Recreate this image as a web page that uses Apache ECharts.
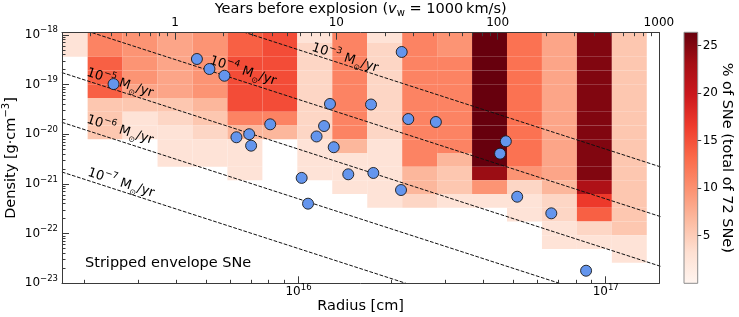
<!DOCTYPE html>
<html><head><meta charset="utf-8">
<script src="https://cdn.jsdelivr.net/npm/echarts@6/dist/echarts.min.js"></script>
<style>html,body{margin:0;padding:0;background:#fff}#c{width:739px;height:317px}</style>
</head><body><div id="c"></div>
<script>
// ---------------- data ----------------
const TOTAL_SNE = 72;
// radius bin edges [cm] (columns of the 2D histogram)
const radiusBinEdges = [1.585e15, 2.059e15, 2.676e15, 3.477e15, 4.517e15, 5.870e15, 7.628e15, 9.911e15,
  1.288e16, 1.674e16, 2.175e16, 2.826e16, 3.672e16, 4.771e16, 6.200e16, 8.056e16, 1.047e17, 1.360e17];
// density bin edges [g cm^-3], from high to low
const densityBinEdges = [1.292e-18, 6.837e-19, 3.618e-19, 1.915e-19, 1.013e-19, 5.362e-20, 2.838e-20, 1.502e-20,
  7.948e-21, 4.207e-21, 2.226e-21, 1.178e-21, 6.235e-22, 3.300e-22, 1.747e-22, 9.245e-23, 4.892e-23, 2.589e-23, 1.370e-23];
// number of SNe per cell, one list per radius column (rows top -> bottom), null = empty
const _ = null;
const snCountsByColumn = [
  [2,2,_,_,_,_,_,_,_,_,_,_,_,_,_,_,_,_],
  [8,8,10,10,10,4,4,4,_,_,_,_,_,_,_,_,_,_],
  [7,7,7,7,6,4,2,2,_,_,_,_,_,_,_,_,_,_],
  [6,6,6,6,6,4,3,2,2,2,_,_,_,_,_,_,_,_],
  [7,7,7,7,7,5,4,3,2,2,_,_,_,_,_,_,_,_],
  [10,10,11,11,11,11,8,5,2,2,2,_,_,_,_,_,_,_],
  [11,11,11,11,11,11,8,5,_,_,_,_,_,_,_,_,_,_],
  [2,3,3,3,3,3,3,3,2,2,2,_,_,_,_,_,_,_],
  [8,8,8,8,8,8,8,8,5,2,2,2,_,_,_,_,_,_],
  [2,3,3,3,3,3,3,3,2,2,2,2,2,_,_,_,_,_],
  [8,8,8,8,8,8,8,8,8,8,5,5,3,_,_,_,_,_],
  [7,7,8,8,8,8,8,8,8,5,4,4,2,_,_,_,_,_],
  [19,19,19,19,19,19,19,19,19,19,17,7,2,_,_,_,_,_],
  [9,9,9,9,9,9,9,9,9,9,7,3,2,2,_,_,_,_],
  [6,6,6,6,6,6,6,6,6,6,6,5,3,3,2,2,_,_],
  [18,18,18,18,18,18,18,18,18,18,18,16,12,10,3,2,_,_],
  [4,4,4,4,4,4,4,4,4,4,4,4,4,4,4,2,2,_]
];
// individual SNe (blue circles)
const snRadius = [2.50e15, 4.67e15, 5.13e15, 5.74e15, 6.28e15, 6.91e15, 7.01e15, 8.09e15, 1.024e16, 1.074e16,
  1.145e16, 1.211e16, 1.266e16, 1.302e16, 1.452e16, 1.722e16, 1.752e16, 2.167e16, 2.156e16, 2.277e16,
  2.80e16, 4.53e16, 4.73e16, 5.15e16, 6.65e16, 8.63e16];
const snDensity = [1.02e-19, 3.26e-19, 2.05e-19, 1.50e-19, 8.67e-21, 1.0e-20, 5.87e-21, 1.58e-20, 1.32e-21, 4.0e-22,
  9.0e-21, 1.46e-20, 4.06e-20, 5.47e-21, 1.56e-21, 3.96e-20, 1.66e-21, 4.51e-19, 7.53e-22, 2.02e-20,
  1.76e-20, 4.06e-21, 7.2e-21, 5.52e-22, 2.56e-22, 1.79e-23];
// constant mass-loss-rate wind lines (v_w = 1000 km/s)
const windExponents = [-3, -4, -5, -6, -7];
const windLineRadius = [1e15, 1e18];
const windDensityAtR1 = [5.0e-17, 5.0e-18, 5.0e-19, 5.0e-20, 5.0e-21];
const windDensityAtR2 = [5.0e-23, 5.0e-24, 5.0e-25, 5.0e-26, 5.0e-27];
// axes
const radiusRange = [1.699e15, 1.494e17];
const densityRange = [1e-23, 1.102e-18];
const yearsRange = [0.1993, 1006];
const radiusMajorTicks = [1e16, 1e17];
const densityMajorTicks = [1e-23, 1e-22, 1e-21, 1e-20, 1e-19, 1e-18];
const yearsMajorTicks = [1, 10, 100, 1000];
const colorbarTicks = [5, 10, 15, 20, 25];

// ---------------- helpers ----------------
const L = Math.log10;
const FONT = 'DejaVu Sans';
const AX = '#3a3a3a';
const REDS = ['#fff5f0','#fee0d2','#fcbba1','#fc9272','#fb6a4a','#ef3b2c','#cb181d','#a50f15','#67000d'];
const colorMax = 19 / TOTAL_SNE * 100;
const neg = v => (v < 0 ? '\u2212' + (-v) : String(v));
function minorTicks(lo, hi) {
  const out = [];
  for (let e = Math.floor(L(lo)) - 1; e <= Math.ceil(L(hi)); e++) {
    for (let k = 2; k <= 9; k++) { const v = k * Math.pow(10, e); if (v > lo && v < hi) out.push(L(v)); }
  }
  return out;
}
const richTick = {
  b: {fontFamily: FONT, fontSize: 12, lineHeight: 18, color: '#000'},
  s: {fontFamily: FONT, fontSize: 8.5, lineHeight: 8.5, verticalAlign: 'top', color: '#000'}
};
const richAnno = {
  n: {fontFamily: FONT, fontSize: 13, lineHeight: 19, color: '#000', textBorderWidth: 0},
  s: {fontFamily: FONT, fontSize: 9, lineHeight: 9, verticalAlign: 'top', color: '#000', textBorderWidth: 0},
  o: {fontFamily: FONT, fontSize: 8, lineHeight: 8, verticalAlign: 'bottom', color: '#000', textBorderWidth: 0}
};

// heat cells
const heatData = [];
snCountsByColumn.forEach((col, i) => col.forEach((n, j) => {
  if (n == null) return;
  heatData.push([L(radiusBinEdges[i]), L(radiusBinEdges[i + 1]), L(densityBinEdges[j + 1]), L(densityBinEdges[j]), n / TOTAL_SNE * 100]);
}));
function renderCell(params, api) {
  const a = api.coord([api.value(0), api.value(3)]);
  const b = api.coord([api.value(1), api.value(2)]);
  const cs = params.coordSys;
  const shape = echarts.graphic.clipRectByRect(
    {x: a[0], y: a[1], width: b[0] - a[0], height: b[1] - a[1]},
    {x: cs.x, y: cs.y, width: cs.width, height: cs.height});
  if (!shape) return null;
  return {type: 'rect', shape: shape, style: {fill: api.visual('color')}};
}
function renderColorbar(params, api) {
  const top = api.coord([0, api.value(2)]);
  const bot = api.coord([0, api.value(1)]);
  const cs = params.coordSys;
  return {type: 'rect', shape: {x: cs.x, y: top[1], width: cs.width, height: bot[1] - top[1]},
    style: {fill: {type: 'linear', x: 0, y: 1, x2: 0, y2: 0,
      colorStops: REDS.map((c, i) => ({offset: i / (REDS.length - 1), color: c}))},
      stroke: '#8d8d8d', lineWidth: 1}};
}

const windSeries = windExponents.map((e, i) => ({
  type: 'line', xAxisIndex: 0, yAxisIndex: 0, silent: true, showSymbol: false, symbol: 'none', clip: true, z: 3,
  lineStyle: {color: '#111', width: 1, type: [3.7, 1.6]},
  data: [[L(windLineRadius[0]), L(windDensityAtR1[i])], [L(windLineRadius[1]), L(windDensityAtR2[i])]]
}));
const windLabelAnchors = [[16.1514, -18.467], [15.8193, -18.728], [15.4189, -18.970], [15.4189, -19.9155], [15.4222, -20.982]];

const option = {
  animation: false,
  textStyle: {fontFamily: FONT},
  grid: [
    {left: 62, right: 79.7, top: 32.7, bottom: 33.7, outerBoundsMode: 'none', containLabel: false},
    {left: 684, right: 41.3, top: 32.3, bottom: 33.7, outerBoundsMode: 'none', containLabel: false}
  ],
  visualMap: {show: false, seriesIndex: 0, dimension: 4, min: 0, max: colorMax, inRange: {color: REDS}},
  xAxis: [
    {type: 'value', gridIndex: 0, position: 'bottom', min: L(radiusRange[0]), max: L(radiusRange[1]), z: 10,
     axisLine: {onZero: false, lineStyle: {color: AX, width: 1}}, splitLine: {show: false},
     axisTick: {inside: true, length: 7, customValues: radiusMajorTicks.map(L), lineStyle: {color: AX}},
     axisLabel: {customValues: radiusMajorTicks.map(L), margin: 0, rich: richTick,
       formatter: v => '{b|10}{s|' + neg(Math.round(v)) + '}'},
     name: 'Radius [cm]', nameLocation: 'middle', nameGap: 15, nameMoveOverlap: false,
     nameTextStyle: {fontFamily: FONT, fontSize: 14.5, color: '#000'}},
    {type: 'value', gridIndex: 0, position: 'bottom', min: L(radiusRange[0]), max: L(radiusRange[1]), z: 10,
     axisLine: {show: false, onZero: false}, splitLine: {show: false}, axisLabel: {show: false},
     axisTick: {inside: true, length: 3.5, customValues: minorTicks(radiusRange[0], radiusRange[1]), lineStyle: {color: AX}}},
    {type: 'value', gridIndex: 0, position: 'top', min: L(yearsRange[0]), max: L(yearsRange[1]), z: 10,
     axisLine: {onZero: false, lineStyle: {color: AX, width: 1}}, splitLine: {show: false},
     axisTick: {inside: true, length: 7, customValues: yearsMajorTicks.map(L), lineStyle: {color: AX}},
     axisLabel: {customValues: yearsMajorTicks.map(L), margin: 4, fontSize: 12, color: '#000', fontFamily: FONT,
       formatter: v => String(Math.round(Math.pow(10, v)))},
     name: '{t|Years before explosion (}{v|v}{w|w}{t| = 1000\u2009km/s)}', nameLocation: 'middle', nameGap: 14,
     nameMoveOverlap: false,
     nameTextStyle: {rich: {
       t: {fontFamily: FONT, fontSize: 14.5, lineHeight: 18, color: '#000'},
       v: {fontFamily: FONT, fontSize: 14.5, lineHeight: 18, fontStyle: 'italic', color: '#000'},
       w: {fontFamily: FONT, fontSize: 10, lineHeight: 10, verticalAlign: 'bottom', color: '#000'}}}},
    {type: 'value', gridIndex: 0, position: 'top', min: L(yearsRange[0]), max: L(yearsRange[1]), z: 10,
     axisLine: {show: false, onZero: false}, splitLine: {show: false}, axisLabel: {show: false},
     axisTick: {inside: true, length: 3.5, customValues: minorTicks(yearsRange[0] * 1.05, yearsRange[1]), lineStyle: {color: AX}}},
    {type: 'value', gridIndex: 1, min: 0, max: 1, show: false}
  ],
  yAxis: [
    {type: 'value', gridIndex: 0, position: 'left', min: L(densityRange[0]), max: L(densityRange[1]), z: 10,
     axisLine: {show: true, onZero: false, lineStyle: {color: AX, width: 1}}, splitLine: {show: false},
     axisTick: {show: true, inside: true, length: 7, customValues: densityMajorTicks.map(L), lineStyle: {color: AX}},
     axisLabel: {customValues: densityMajorTicks.map(L), margin: 4, rich: richTick,
       formatter: v => '{b|10}{s|' + neg(Math.round(v)) + '}'},
     name: '{t|Density [g\u00b7cm}{s|\u22123}{t|]}', nameLocation: 'middle', nameGap: 41, nameRotate: 90,
     nameMoveOverlap: false,
     nameTextStyle: {rich: {
       t: {fontFamily: FONT, fontSize: 14.5, lineHeight: 20, color: '#000'},
       s: {fontFamily: FONT, fontSize: 10, lineHeight: 10, verticalAlign: 'top', color: '#000'}}}},
    {type: 'value', gridIndex: 0, position: 'left', min: L(densityRange[0]), max: L(densityRange[1]), z: 10,
     axisLine: {show: false, onZero: false}, splitLine: {show: false}, axisLabel: {show: false},
     axisTick: {show: true, inside: true, length: 3.5, customValues: minorTicks(densityRange[0], densityRange[1]), lineStyle: {color: AX}}},
    {type: 'value', gridIndex: 0, position: 'right', min: L(densityRange[0]), max: L(densityRange[1]), z: 10,
     axisLine: {show: true, onZero: false, lineStyle: {color: AX, width: 1}}, splitLine: {show: false},
     axisTick: {show: false}, axisLabel: {show: false}},
    {type: 'value', gridIndex: 1, position: 'right', min: 0, max: colorMax, z: 10,
     axisLine: {show: false, onZero: false}, splitLine: {show: false},
     axisTick: {show: true, inside: false, length: 3.5, customValues: colorbarTicks, lineStyle: {color: AX}},
     axisLabel: {customValues: colorbarTicks, margin: 5, fontSize: 12, color: '#000', fontFamily: FONT},
     name: '% of SNe (total of 72 SNe)', nameLocation: 'middle', nameGap: 22, nameRotate: -90,
     nameMoveOverlap: false,
     nameTextStyle: {fontFamily: FONT, fontSize: 14.5, color: '#000'}}
  ],
  series: [
    {type: 'custom', xAxisIndex: 0, yAxisIndex: 0, renderItem: renderCell, data: heatData, silent: true, z: 1,
     encode: {x: [0, 1], y: [2, 3]}},
    ...windSeries,
    {type: 'scatter', xAxisIndex: 0, yAxisIndex: 0, symbolSize: 0, silent: true, z: 4,
     itemStyle: {opacity: 1},
     label: {show: true, position: 'inside', rotate: -17.9, color: '#000', textBorderWidth: 0, opacity: 1, rich: richAnno},
     data: windExponents.map((e, i) => ({value: windLabelAnchors[i],
       label: {formatter: '{n|10}{s|' + neg(e) + '}{n| M}{o|\u2299}{n|/yr}'}}))},
    {type: 'scatter', xAxisIndex: 0, yAxisIndex: 0, symbol: 'circle', symbolSize: 11, z: 5, silent: true,
     itemStyle: {color: '#6495ed', borderColor: '#1a1a1a', borderWidth: 0.9, opacity: 1},
     data: snRadius.map((r, i) => [L(r), L(snDensity[i])])},
    {type: 'custom', xAxisIndex: 4, yAxisIndex: 3, renderItem: renderColorbar, silent: true,
     data: [[0, 0, colorMax]], encode: {x: 0, y: [1, 2]}}
  ],
  graphic: [
    {type: 'text', left: 85, top: 256, silent: true,
     style: {text: 'Stripped envelope SNe', fontFamily: FONT, fontSize: 14.5, fill: '#000'}}
  ]
};
const chart = echarts.init(document.getElementById('c'), null, {renderer: 'canvas'});
chart.setOption(option);
</script></body></html>
